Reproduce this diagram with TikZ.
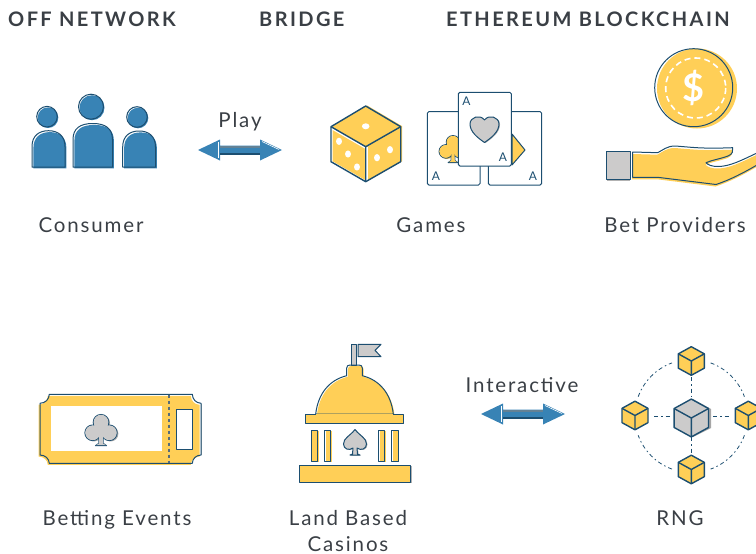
\documentclass[tikz,border=0pt]{standalone}
\usepackage{fontspec}
\usetikzlibrary{calc}
\setmainfont{Lato}
\definecolor{byel}{HTML}{FFCF57}
\definecolor{bblue}{HTML}{3883B5}
\definecolor{bline}{HTML}{1C4E70}
\definecolor{bgrey}{HTML}{CCCBCB}
\definecolor{btxt}{HTML}{3A3F45}
\tikzset{
  ol/.style={draw=bline,line width=1pt,line join=round},
  olb/.style={draw=bline,line width=1.4pt,line join=round},
  shY/.style={fill=byel,shift={(1.2,1)}},
  shB/.style={fill=bblue,shift={(1.4,1.4)}},
  lab/.style={text=btxt,font=\fontsize{20.5}{22}\selectfont\addfontfeatures{LetterSpace=9},inner sep=0pt,anchor=base},
  hd/.style={text=btxt,font=\fontsize{20}{22}\selectfont\bfseries\addfontfeatures{LetterSpace=12},inner sep=0pt,anchor=base west},
  cardA/.style={text=bline,font=\fontsize{12}{13}\selectfont,inner sep=0pt},
}
\newcommand\person[6]{% head x,y,r; body left,right,top
  \def\bp{(#4,167) -- (#4,#6+16) .. controls (#4,#6+5) and (#4+7,#6) .. ({(#4+#5)/2},#6) .. controls (#5-7,#6) and (#5,#6+5) .. (#5,#6+16) -- (#5,167) -- cycle}
  \fill[shB] \bp;
  \draw[ol] \bp;
  \fill[bblue] (#1+1,#2+1) circle (#3);
  \draw[ol] (#1,#2) circle (#3);
}
\newcommand\dblarrow[3]{% left tip, right tip, y
  \def\ap{(#1,#3) -- (#1+22,#3-10.5) -- (#1+22,#3-4.5) -- (#2-22,#3-4.5) -- (#2-22,#3-10.5) -- (#2,#3) -- (#2-22,#3+10.5) -- (#2-22,#3+4.5) -- (#1+22,#3+4.5) -- (#1+22,#3+10.5) -- cycle}
  \fill[bblue] \ap;
  \draw[white,line width=.6pt] (#1+20.5,#3-8) -- (#1+20.5,#3+8);
  \draw[white,line width=.6pt] (#2-20,#3-8.5) -- (#2-3,#3-.5);
  \fill[bline] (#1+22,#3+3) rectangle (#2-22,#3+4.5);
  \fill[gray!60!bblue] (#1+22,#3-4.5) rectangle (#2-22,#3-2.5);
}
\newcommand\clubp[4]{% x y scale fill
  \begin{scope}[shift={(#1,#2)},scale=#3]
    \fill[#4!85!black,shift={(.07,.05)}] (0,-.42) circle (.42) (-.45,.15) circle (.42) (.45,.15) circle (.42);
    \draw[ol] (0,-.42) circle (.42) (-.45,.15) circle (.42) (.45,.15) circle (.42);
    \draw[ol] (-.1,.3) -- (-.12,.72) -- (-.3,.85) -- (.3,.85) -- (.12,.72) -- (.1,.3);
    \fill[#4] (0,-.42) circle (.40) (-.45,.15) circle (.40) (.45,.15) circle (.40);
    \fill[#4] (-.3,-.3) rectangle (.3,.3);
    \fill[#4] (-.1,.2) -- (-.11,.73) -- (-.26,.82) -- (.26,.82) -- (.11,.73) -- (.1,.2) -- cycle;
  \end{scope}
}
\newcommand\cubeat[4]{% x y scale fill
  \begin{scope}[shift={(#1,#2)},scale=#3]
    \filldraw[fill=#4,olb] (0,-1.1) -- (1,-.55) -- (1,.55) -- (0,1.1) -- (-1,.55) -- (-1,-.55) -- cycle;
    \draw[olb] (-1,-.55) -- (0,0) -- (1,-.55) (0,0) -- (0,1.1);
  \end{scope}
}
\begin{document}
\begin{tikzpicture}[x=1pt,y=-1pt]
\useasboundingbox (0,0) rectangle (756,554);
\clip (0,0) rectangle (756,554);
% headers
\node[hd] (h1) at (8,27) {OFF NETWORK};
\node[hd] (h2) at (259,27) {BRIDGE};
\node[hd] (h3) at (446,27) {ETHEREUM BLOCKCHAIN};
% people
\person{47}{116.7}{10.3}{32}{65}{130.7}
\person{91}{106.7}{12.5}{73}{112.5}{123.5}
\person{137}{117}{10.3}{122.7}{155.5}{131}
% play arrow
\node[lab] (play) at (240,127) {Play};
\dblarrow{198}{282}{150}
% dice
\fill[byel,shift={(1.5,-.5)}] (365.7,106) -- (400.7,126.7) -- (400.7,161.7) -- (365.7,181.7) -- (331,161.7) -- (331,126.7) -- cycle;
\fill[white] (331,126.7) -- (365.7,146.7) -- (365.7,149) -- (331,129) -- cycle;
\fill[white] (365.7,146.7) rectangle (368,181);
\draw[olb] (365.7,106) -- (400.7,126.7) -- (400.7,161.7) -- (365.7,181.7) -- (331,161.7) -- (331,126.7) -- cycle;
\draw[olb] (331,126.7) -- (365.7,146.7) -- (400.7,126.7) (365.7,146.7) -- (365.7,181.7);
\fill[white] (365.7,126.3) ellipse (3.8 and 3) (339,141.3) ellipse (3 and 3.6) (348,154) ellipse (3 and 3.6) (357,167) ellipse (3 and 3.6) (377,157.7) ellipse (3 and 3.6) (390,149.7) ellipse (3 and 3.6);
% cards
\draw[ol,rounded corners=1.5] (427.3,111.7) rectangle (480,185);
\draw[ol,rounded corners=1.5] (488.3,111.7) rectangle (541.7,185);
\clubp{453}{149}{16}{byel}
\filldraw[fill=byel,ol] (512,134) -- (525,150) -- (512,165) -- cycle;
\filldraw[fill=white,ol,rounded corners=1.5] (458.3,92.3) rectangle (511.3,166);
\node[cardA] (a1) at (466.5,101) {A};
\node[cardA] (a2) at (503,157) {A};
\node[cardA] (a3) at (436,176) {A};
\node[cardA] (a4) at (533,176) {A};
\def\hp{(484.5,142.5) .. controls (478,138) and (470,132) .. (470,124) .. controls (470,117) and (480,114) .. (484.5,120) .. controls (489,114) and (499,117) .. (499,124) .. controls (499,132) and (491,138) .. (484.5,142.5) -- cycle}
\fill[bgrey!85!black,shift={(1,.5)}] \hp;
\fill[bgrey] \hp;
\draw[ol] \hp;
\node[lab] (games) at (431,232) {Games};
% coin
\fill[byel] (697,88.5) circle (40);
\draw[ol] (693.7,87.7) circle (39);
\draw[white,line width=1.6pt,dash pattern=on 6pt off 4pt] (695.7,88) circle (30);
\node[text=white,font=\fontsize{38}{40}\selectfont\bfseries,inner sep=0pt] (dollar) at (694,88) {\$};
% hand
\fill[gray!60,shift={(0,2)}] (606.7,151.7) rectangle (630,179.3);
\filldraw[fill=bgrey,ol] (606.7,151.7) rectangle (630,179.3);
\def\hand{(632.7,152) -- (657.7,152.7) .. controls (663,150) and (667,146) .. (675,146) .. controls (690,147) and (700,149) .. (732.7,147.7) .. controls (733,151) and (733,154) .. (728,156) .. controls (720,159) and (712,160) .. (706,162.7) .. controls (708,165) and (712,166.5) .. (718,166.5) .. controls (730,166.5) and (742,160) .. (757,153) -- (757,165) .. controls (745,172) and (730,180) .. (716,184.5) -- (657.7,177.3) -- (632.7,177.3) -- cycle}
\fill[byel,shift={(-.5,2)}] \hand;
\draw[ol] \hand;
\node[lab] (bet) at (675,232) {Bet Providers};
\node[lab] (consumer) at (91,232) {Consumer};
% ticket
\def\tk{(49.3,394.3) -- (192.3,394.3) .. controls (192.6,399.5) and (196,403) .. (201,403.3) -- (201,455) .. controls (196,455.3) and (192.6,458.5) .. (192.3,463.3) -- (49.3,463.3) .. controls (49,458.5) and (45.5,455.3) .. (40,455) -- (40,403.3) .. controls (45.5,403) and (49,399.5) .. (49.3,394.3) -- cycle}
\fill[byel,shift={(-1.5,1.5)}] \tk;
\fill[white] (196,396) rectangle (204,404);
\fill[gray!50] (201.2,404) rectangle (202.2,455);
\draw[ol] \tk;
\fill[white] (51,406) rectangle (162,451);
\draw[gray!60!bline,line width=1.2pt,dash pattern=on 3.5pt off 2.5pt] (169,394.5) -- (169,463);
\filldraw[fill=white,ol] (176.3,409.3) rectangle (192,449);
\clubp{101}{430}{18.5}{bgrey}
\node[lab] (events) at (117,525) {Betting Events};
% casino
\filldraw[fill=bgrey,ol] (351.7,344.3) rectangle (356.3,365);
\filldraw[fill=bgrey,ol] (358,344.3) -- (381,344.3) -- (375,350.3) -- (381,356.7) -- (358,356.7) -- cycle;
\def\dm{(346.7,375.7) -- (346.7,368) .. controls (346.7,366) and (348,365) .. (350,365) -- (359,365) .. controls (361,365) and (362.3,366) .. (362.3,368) -- (362.3,375.7) .. controls (380,380) and (391,394) .. (393.3,414) -- (315.7,414) .. controls (318,394) and (329,380) .. (346.7,375.7) -- cycle}
\fill[shY] \dm;
\draw[ol] \dm;
\fill[byel,shift={(1,1)}] (305,414) rectangle (403.3,423.3);
\fill[byel] (316,414) rectangle (393,416);
\draw[ol] (315.7,414) -- (305,414) -- (305,423.3) -- (403.3,423.3) -- (403.3,414) -- (393.3,414);
\foreach \a/\b in {311/317.3,324.3/330.7,378.3/384.3,391.7/398}{
  \fill[byel,shift={(1.2,.5)}] (\a,430.7) rectangle (\b,461);
  \draw[ol] (\a,430.7) rectangle (\b,461);
}
\def\sd{(355,429.5) .. controls (350,436) and (343.5,438) .. (343.5,444) .. controls (343.5,449) and (349,451) .. (353,448) -- (352.5,454) -- (350,455) -- (360,455) -- (357.5,454) -- (357,448) .. controls (361,451) and (366.5,449) .. (366.5,444) .. controls (366.5,438) and (360,436) .. (355,429.5) -- cycle}
\fill[bgrey!85!black,shift={(1,.5)}] \sd;
\fill[bgrey] \sd;
\draw[ol] \sd;
\fill[byel,shift={(.5,.5)}] (299,465.7) rectangle (411,482.3);
\draw[ol] (299,465.7) rectangle (410,482.3);
\fill[gray!60] (410.5,466) rectangle (411.5,482.5);
\node[lab] (casinos) at (348,525) {Land Based};
\node[lab] (casinos2) at (348,551) {Casinos};
% interactive
\node[lab] (inter) at (522,392) {Interactive};
\dblarrow{481}{565}{414}
% RNG
\tikzset{dsh/.style={draw=bline,line width=.8pt,dash pattern=on 4pt off 3pt on 1.5pt off 3pt}}
\coordinate (c) at (691.3,416);
\foreach \s/\e in {-70/-20,20/70,110/160,200/250}{
  \draw[dsh] ($(c)+(\s:56.5)$) arc[start angle=\s,end angle=\e,radius=56.5];
}
\draw[dsh] (691.3,377) -- (691.3,398);
\draw[dsh] (691.3,437) -- (691.3,456);
\draw[dsh] (654,416.7) -- (671,416.7);
\draw[dsh] (713,416.7) -- (730,416.7);
\fill[gray!70,shift={(1,0)}] (692,399) -- (710,409) -- (710,428) -- (692,437) -- cycle;
\cubeat{691.3}{418}{17.2}{bgrey}
\cubeat{691.3}{361}{13}{byel}
\cubeat{691.3}{469.5}{13}{byel}
\cubeat{635}{415.5}{13}{byel}
\cubeat{748.3}{415.5}{13}{byel}
\node[lab] (rng) at (680,525) {RNG};
\end{tikzpicture}
\end{document}
